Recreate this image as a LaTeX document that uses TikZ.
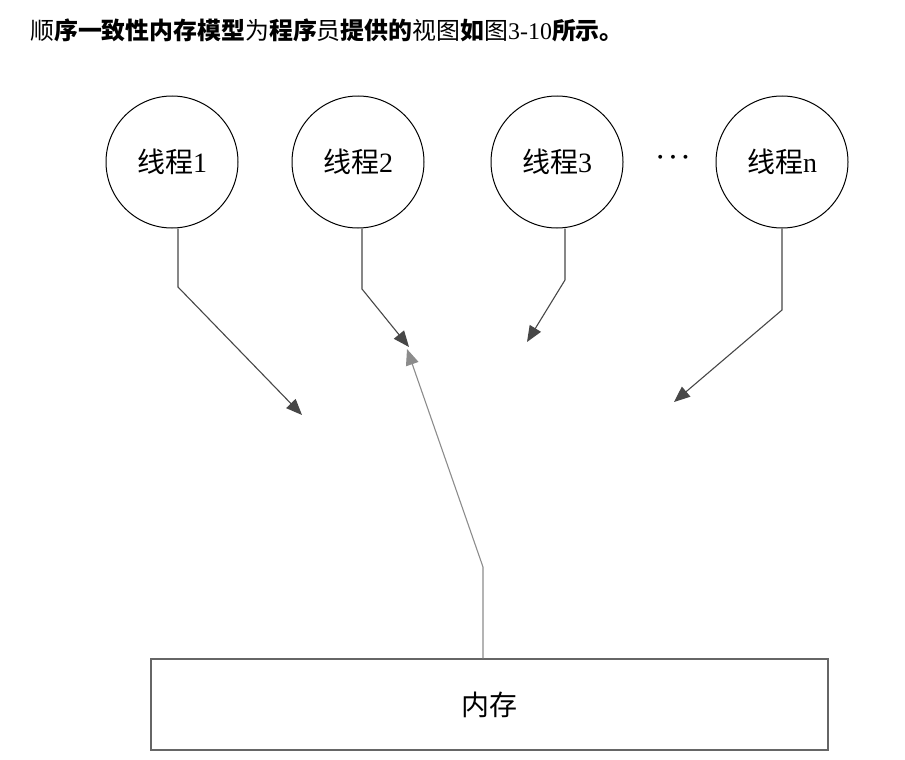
\documentclass[tikz,border=0pt]{standalone}
\usepackage{fontspec}
\setmainfont{Liberation Serif}
\newfontfamily\cjk{Noto Sans CJK SC}
\usetikzlibrary{arrows.meta}
\begin{document}
\begin{tikzpicture}[x=1pt,y=-1pt,
  thread/.style={circle,draw=black,line width=1pt,minimum size=132pt,inner sep=0pt,font=\fontsize{28}{32}\selectfont},
  thr/.style={draw=black!72,line width=1.1pt,-{Triangle[length=16pt,width=13pt]}},
  memarr/.style={draw=black!45,line width=1.1pt,-{Triangle[length=16pt,width=13pt]}},
  membox/.style={draw=black!60,line width=1.2pt,minimum width=677pt,minimum height=91pt,inner sep=0pt,font=\fontsize{28}{32}\selectfont}]
\useasboundingbox (0,0) rectangle (905,760);
\node[anchor=west,inner sep=0pt,font=\fontsize{23.9}{26}\selectfont] (title) at (30,30) {{\cjk 顺\bfseries 序一致性内存模型\mdseries 为\bfseries 程序\mdseries 员\bfseries 提供的\mdseries 视图\bfseries 如\mdseries 图}3-10{\cjk\bfseries 所示。}};
\node[thread] (t1) at (172,162) {{\cjk 线程}1};
\node[thread] (t2) at (358,162) {{\cjk 线程}2};
\node[thread] (t3) at (557,162) {{\cjk 线程}3};
\node[thread] (tn) at (782,162) {{\cjk 线程}n};
\node[font=\fontsize{36}{40}\selectfont\boldmath] (dots) at (673,158) {$\cdots$};
\node[membox] (mem) at (489.5,704.5) {\cjk 内存};
\coordinate (b1) at (178,287);
\coordinate (e1) at (302,415);
\coordinate (b2) at (362,289);
\coordinate (e2) at (409,347);
\coordinate (b3) at (565,280);
\coordinate (e3) at (527,342);
\coordinate (bn) at (782,310);
\coordinate (en) at (674,402);
\coordinate (bm) at (483,567);
\coordinate (em) at (407,349);
\draw[thr] (b1 |- t1.south) -- (b1) -- (e1);
\draw[thr] (b2 |- t2.south) -- (b2) -- (e2);
\draw[thr] (b3 |- t3.south) -- (b3) -- (e3);
\draw[thr] (tn.south) -- (bn) -- (en);
\draw[memarr] (bm |- mem.north) -- (bm) -- (em);
\end{tikzpicture}
\end{document}
